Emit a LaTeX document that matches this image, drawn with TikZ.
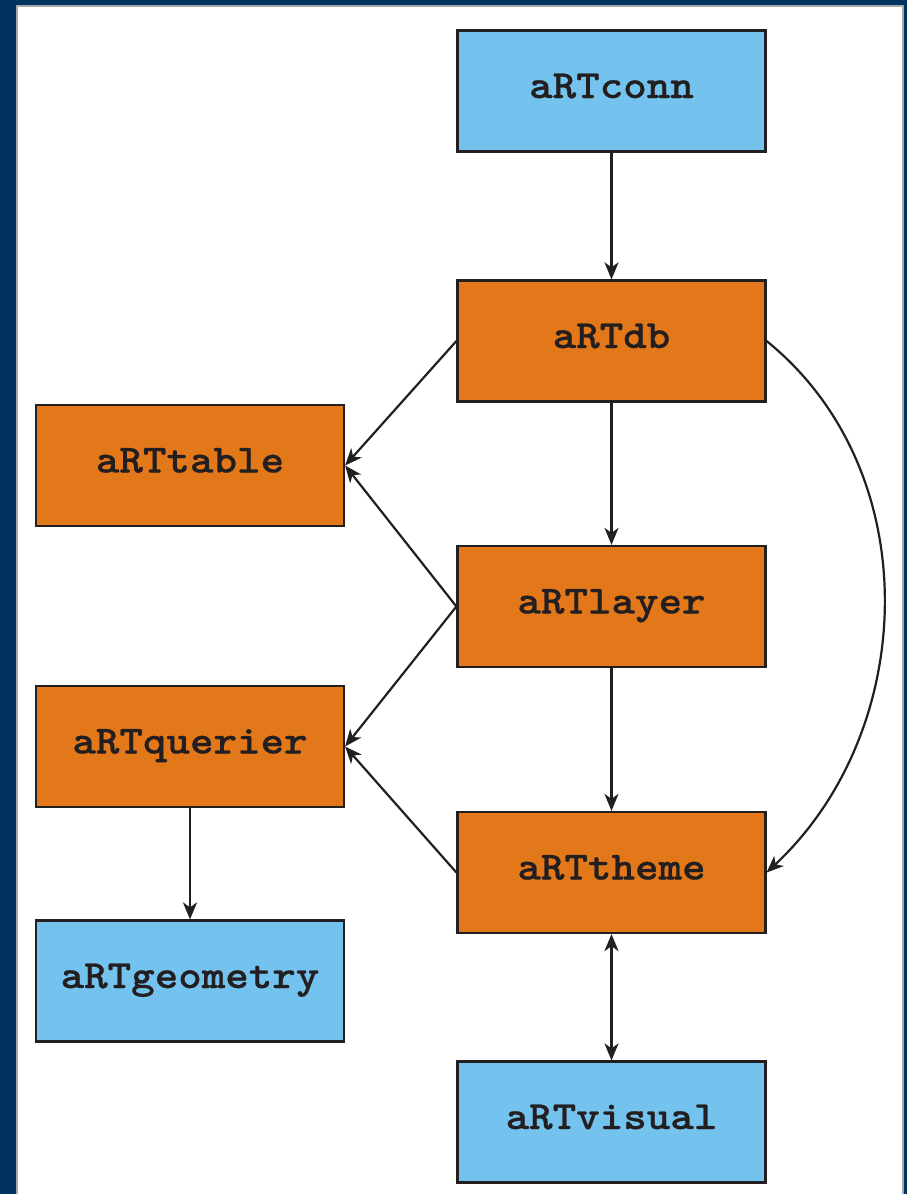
\documentclass[tikz,border=0pt]{standalone}
\usepackage{fontspec}
\newfontfamily\modfont{lmmonolt10-bold.otf}[FakeStretch=1.12,FakeBold=0.6]
\usetikzlibrary{arrows.meta}
\definecolor{framebg}{HTML}{00335F}
\definecolor{edgegray}{HTML}{A8A8A8}
\definecolor{modblue}{HTML}{74C3EF}
\definecolor{modorange}{HTML}{E3781B}
\definecolor{ink}{HTML}{231F20}
\tikzset{
  module/.style={draw=ink, line width=2.2pt, minimum width=308pt, minimum height=121pt,
    inner sep=0pt, font=\modfont\fontsize{40}{42}\selectfont,
    text height=24pt, text depth=10pt, text=ink},
  core/.style={module, fill=modorange},
  ext/.style={module, fill=modblue},
  dep/.style={draw=ink, line width=2.2pt, -{Stealth[length=17pt,width=14pt,inset=5pt]}},
  bidep/.style={draw=ink, line width=2.2pt, {Stealth[length=17pt,width=14pt,inset=5pt]}-{Stealth[length=17pt,width=14pt,inset=5pt]}}
}
\begin{document}
\begin{tikzpicture}[x=1pt,y=1pt]
  % page frame
  \useasboundingbox (0,0) rectangle (907,-1194);
  \fill[framebg] (0,0) rectangle (907,-1194);
  \fill[white, draw=edgegray, line width=1.5pt] (17,-6) rectangle (903,-1200);

  % modules
  \node[ext]  (conn)     at (611.5,-91)    {aRTconn};
  \node[core] (db)       at (611.5,-341)   {aRTdb};
  \node[core] (table)    at (190,-465.5)   {aRTtable};
  \node[core] (layer)    at (611.5,-606.5) {aRTlayer};
  \node[core] (querier)  at (190,-746.5)   {aRTquerier};
  \node[core] (theme)    at (611.5,-872.5) {aRTtheme};
  \node[ext]  (geometry) at (190,-981)     {aRTgeometry};
  \node[ext]  (visual)   at (611.5,-1122)  {aRTvisual};

  % dependencies
  \draw[dep] (conn) -- (db);
  \draw[dep] (db) -- (layer);
  \draw[dep] (layer) -- (theme);
  \draw[dep] (db.west) -- (table.east);
  \draw[dep] (layer.west) -- (table.east);
  \draw[dep] (layer.west) -- (querier.east);
  \draw[dep] (theme.west) -- (querier.east);
  \draw[dep] (querier) -- (geometry);
  \draw[bidep] (theme) -- (visual);
  \draw[dep] (db.east) to[out=-39, in=43] (theme.east);
\end{tikzpicture}
\end{document}
